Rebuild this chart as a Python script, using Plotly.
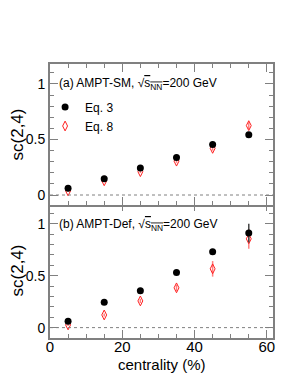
import plotly.graph_objects as go

cent = [5, 15, 25, 35, 45, 55]
# panel (a) AMPT-SM
a_eq3 = [0.060, 0.146, 0.243, 0.338, 0.454, 0.543]
a_eq3_err = [0.005, 0.005, 0.008, 0.010, 0.012, 0.015]
a_eq8 = [0.037, 0.128, 0.210, 0.305, 0.420, 0.625]
a_eq8_err = [0.008, 0.010, 0.012, 0.015, 0.020, 0.030]
# panel (b) AMPT-Def
b_eq3 = [0.062, 0.245, 0.354, 0.530, 0.730, 0.910]
b_eq3_err = [0.008, 0.010, 0.012, 0.015, 0.025, 0.090]
b_eq8 = [0.026, 0.122, 0.257, 0.383, 0.566, 0.855]
b_eq8_err = [0.010, 0.015, 0.020, 0.030, 0.075, 0.095]

FONT = "Liberation Sans, Arial, sans-serif"
FRAME = "#808080"

fig = go.Figure()

def add(x, y, err, name, xa, ya, show, kind, rank):
    if kind == 3:
        marker = dict(symbol="circle", size=7, color="black")
        ecol = "#444444"
    else:
        marker = dict(symbol="diamond-tall-open", size=7, color="#ff2020",
                      line=dict(color="#ff2020", width=1))
        ecol = "#ff8080"
    fig.add_trace(go.Scatter(
        x=x, y=y, mode="markers", name=name, showlegend=show, legendrank=rank,
        marker=marker, xaxis=xa, yaxis=ya,
        error_y=dict(type="data", array=err, visible=True, width=0,
                     thickness=1.5, color=ecol)))

add(cent, a_eq8, a_eq8_err, "Eq. 8", "x2", "y2", True, 8, 2)
add(cent, a_eq3, a_eq3_err, "Eq. 3", "x2", "y2", True, 3, 1)
add(cent, b_eq8, b_eq8_err, "Eq. 8", "x", "y", False, 8, 2)
add(cent, b_eq3, b_eq3_err, "Eq. 3", "x", "y", False, 3, 1)

split = 0.4927
gap = 2 / 274
xcommon = dict(range=[0, 61.7], showgrid=False, zeroline=False, automargin=False,
               showline=True, linecolor=FRAME, linewidth=2, mirror="ticks",
               ticks="inside", ticklen=8, tickcolor=FRAME, tickwidth=1,
               tickvals=[0, 20, 40, 60],
               minor=dict(tickvals=list(range(5, 61, 5)), ticks="inside",
                          ticklen=4, tickcolor=FRAME, tickwidth=1))
ycommon = dict(showgrid=False, zeroline=False, automargin=False,
               showline=True, linecolor=FRAME, linewidth=2, mirror="ticks",
               ticks="inside", ticklen=8, tickcolor=FRAME, tickwidth=1,
               tickvals=[0, 0.5, 1], ticktext=["0", "0.5", "1"],
               tickfont=dict(size=14, color="black", family=FONT),
               title=dict(text="sc(2,4)", font=dict(size=17, color="black", family=FONT),
                          standoff=6),
               minor=dict(tickvals=[-0.1 + 0.1 * i for i in range(14)], ticks="inside",
                          ticklen=4, tickcolor=FRAME, tickwidth=1))

fig.update_layout(
    width=290, height=377,
    margin=dict(l=42, r=25, t=56, b=47, autoexpand=False),
    paper_bgcolor="white", plot_bgcolor="white",
    font=dict(family=FONT, color="black", size=12),
    xaxis=dict(**xcommon, anchor="y", domain=[0, 1], ticklabelstandoff=-6,
               tickfont=dict(size=15, color="black", family=FONT)),
    xaxis2=dict(**xcommon, anchor="y2", matches="x", showticklabels=False),
    yaxis=dict(**ycommon, range=[-0.1, 1.2], domain=[0, split], anchor="x"),
    yaxis2=dict(**ycommon, range=[-0.09, 1.18], domain=[split - gap, 1], anchor="x2"),
    legend=dict(x=-0.022, y=0.896, xanchor="left", yanchor="top",
                bgcolor="rgba(0,0,0,0)", font=dict(size=12, family=FONT),
                tracegroupgap=0, itemwidth=30),
    shapes=[
        dict(type="line", xref="x domain", yref="y", x0=0, x1=1, y0=0, y1=0,
             line=dict(color="#808080", width=1, dash="dot")),
        dict(type="line", xref="x2 domain", yref="y2", x0=0, x1=1, y0=0, y1=0,
             line=dict(color="#808080", width=1, dash="dot")),
    ],
    annotations=[
        dict(text="(a) AMPT-SM, √<span style='text-decoration:overline'>s<sub>NN</sub></span>=200 GeV",
             xref="paper", yref="paper", x=0.03, y=0.927, xanchor="left", yanchor="middle",
             showarrow=False, font=dict(size=12, family=FONT, color="black")),
        dict(text="(b) AMPT-Def, √<span style='text-decoration:overline'>s<sub>NN</sub></span>=200 GeV",
             xref="paper", yref="paper", x=0.03, y=0.412, xanchor="left", yanchor="middle",
             showarrow=False, font=dict(size=12, family=FONT, color="black")),
        dict(text="centrality (%)", xref="paper", yref="paper", x=0.5, y=-0.095,
             xanchor="center", yanchor="middle", showarrow=False,
             font=dict(size=15, family=FONT, color="black")),
    ],
)

fig.write_html("out.html")
